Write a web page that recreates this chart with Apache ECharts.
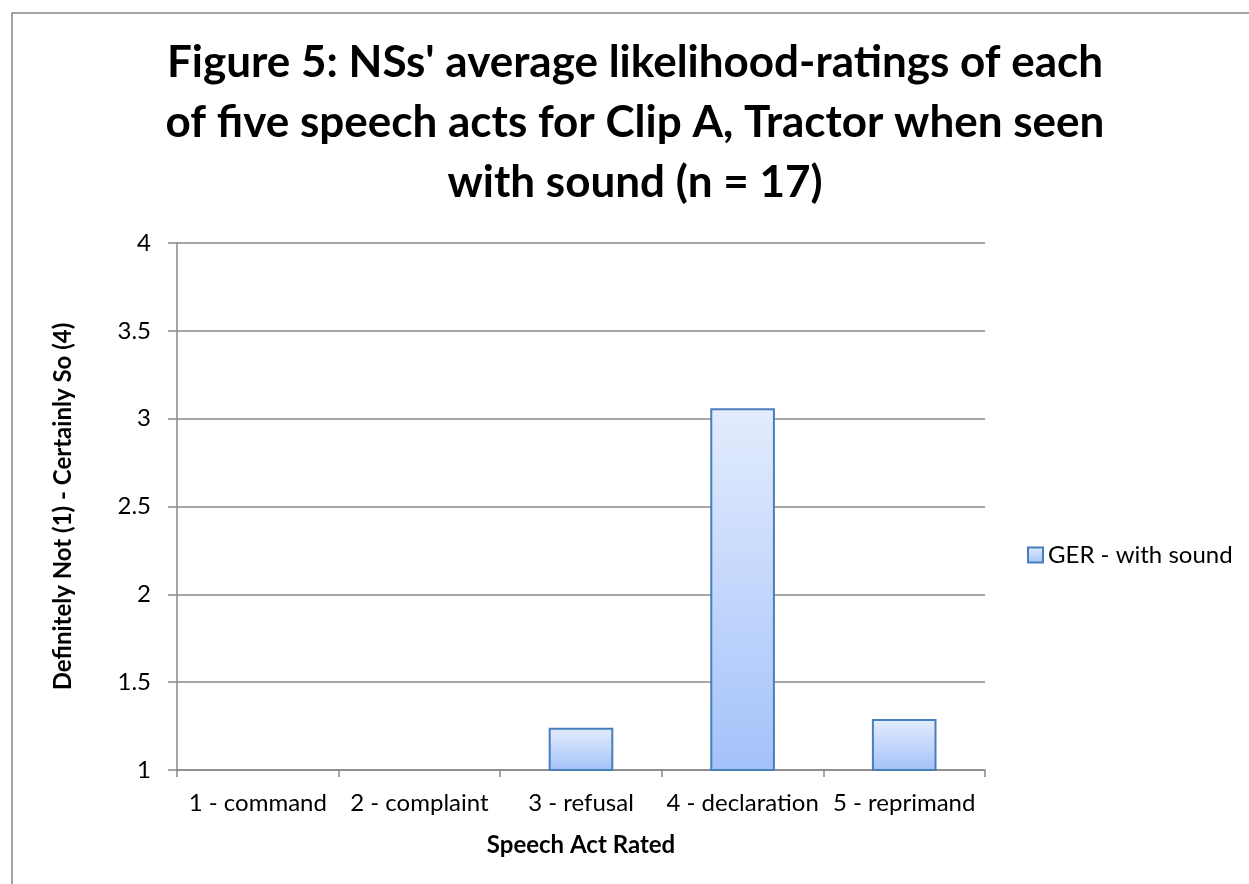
<!DOCTYPE html>
<html>
<head>
<meta charset="utf-8">
<script src="https://cdn.jsdelivr.net/npm/echarts@6/dist/echarts.min.js"></script>
<style>
  html, body { margin: 0; padding: 0; background: #ffffff; }
  #chart { width: 1249px; height: 884px; }
</style>
</head>
<body>
<div id="chart"></div>
<script>
// Speech acts rated and the mean likelihood rating for each (scale 1-4)
const categories = ['1 - command', '2 - complaint', '3 - refusal', '4 - declaration', '5 - reprimand'];
const gerWithSound = [1.00, 1.00, 1.24, 3.06, 1.29];
const yTicks = [1, 1.5, 2, 2.5, 3, 3.5, 4];
const seriesName = 'GER - with sound';

const FONT = 'Lato, "Open Sans", sans-serif';

const chart = echarts.init(document.getElementById('chart'), null, { renderer: 'canvas' });

chart.setOption({
  backgroundColor: '#ffffff',
  animation: false,
  graphic: [{
    type: 'rect',
    shape: { x: 12, y: 13, width: 1400, height: 1000 },
    style: { fill: 'none', stroke: '#878787', lineWidth: 1.5 },
    silent: true,
    z: 0
  }],
  title: {
    text: "Figure 5: NSs' average likelihood-ratings of each\nof five speech acts for Clip A, Tractor when seen\nwith sound (n = 17)",
    left: 635,
    top: 33,
    textAlign: 'center',
    padding: 0,
    textStyle: {
      fontFamily: FONT,
      fontWeight: 'bold',
      fontSize: 44,
      lineHeight: 60,
      color: '#000000'
    }
  },
  legend: {
    left: 1027,
    top: 543,
    orient: 'vertical',
    padding: 0,
    itemWidth: 15,
    itemHeight: 15,
    itemGap: 6,
    textStyle: { fontFamily: FONT, fontSize: 24, color: '#000000' },
    data: [{ name: seriesName, icon: 'rect' }]
  },
  grid: {
    left: 177,
    right: 264,
    top: 243,
    bottom: 114,
    containLabel: false
  },
  xAxis: {
    type: 'category',
    data: categories,
    name: 'Speech Act Rated',
    nameLocation: 'middle',
    nameGap: 63,
    nameTextStyle: { fontFamily: FONT, fontWeight: 'bold', fontSize: 24, color: '#000000' },
    axisLine: { lineStyle: { color: '#898989', width: 1.5 } },
    axisTick: { show: true, length: 7, alignWithLabel: false, lineStyle: { color: '#898989', width: 1.5 } },
    axisLabel: { fontFamily: FONT, fontSize: 24, color: '#000000', margin: 21, interval: 0 },
    splitLine: { show: false }
  },
  yAxis: {
    type: 'value',
    min: yTicks[0],
    max: yTicks[yTicks.length - 1],
    interval: yTicks[1] - yTicks[0],
    name: 'Definitely Not (1) - Certainly So (4)',
    nameLocation: 'middle',
    nameGap: 102,
    nameTextStyle: { fontFamily: FONT, fontWeight: 'bold', fontSize: 24, color: '#000000' },
    axisLine: { show: true, lineStyle: { color: '#898989', width: 1.5 } },
    axisTick: { show: true, length: 9, lineStyle: { color: '#898989', width: 1.5 } },
    axisLabel: {
      fontFamily: FONT, fontSize: 24, color: '#000000', margin: 26,
      formatter: v => String(v)
    },
    splitLine: { show: true, lineStyle: { color: '#898989', width: 1.5 } }
  },
  series: [{
    name: seriesName,
    type: 'bar',
    data: gerWithSound,
    barWidth: '40%',
    itemStyle: {
      color: new echarts.graphic.LinearGradient(0, 0, 0, 1, [
        { offset: 0, color: '#e3ecfd' },
        { offset: 1, color: '#a3c2fa' }
      ]),
      borderColor: '#4a7ebb',
      borderWidth: 2
    },
    emphasis: { disabled: true }
  }]
});
</script>
</body>
</html>
